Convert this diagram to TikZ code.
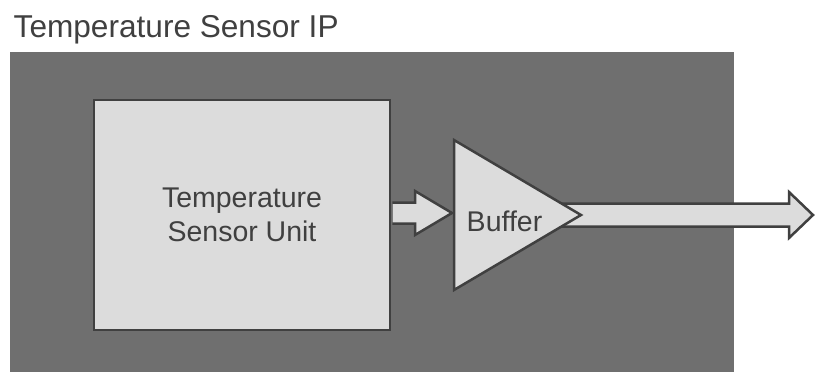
\documentclass[tikz,border=0pt]{standalone}
\usepackage{fontspec}
\setmainfont{Liberation Sans}
\usetikzlibrary{calc}
\definecolor{bggrey}{HTML}{6F6F6F}
\definecolor{boxfill}{HTML}{DCDCDC}
\definecolor{edgegrey}{HTML}{404040}
\begin{document}
\begin{tikzpicture}[x=1pt,y=-1pt,
  blk/.style={draw=edgegrey, fill=boxfill, line width=2.5pt, line join=miter},
  arrfill/.style={fill=boxfill},
  arredge/.style={draw=edgegrey, line width=2.5pt, line join=miter},
  lbl/.style={text=edgegrey, font=\fontsize{28.5}{34.5}\selectfont, align=center, inner sep=0pt}]
\useasboundingbox (0,0) rectangle (815,372);
% background block
\fill[bggrey] (10,52) rectangle (734,372);
% title
\node[anchor=base west, inner sep=0pt, text=edgegrey, font=\fontsize{31.6}{37}\selectfont] (title) at (13.5,37) {Temperature Sensor IP};
% sensor unit box
\node[blk, lbl, minimum width=296pt, minimum height=230pt] (tsu) at (242,215) {Temperature\\Sensor Unit};
% triangle corners
\coordinate (triT) at (454,140);
\coordinate (triB) at (454,290);
\coordinate (triP) at (581,215);
% output block arrow (behind the buffer)
\fill[arrfill] (560,203.5) -- (789,203.5) -- (789,192) -- (813,215) -- (789,238) -- (789,226.5) -- (560,226.5) -- cycle;
\draw[arredge] (560,203.5) -- (789,203.5) -- (789,192) -- (813,215) -- (789,238) -- (789,226.5) -- (560,226.5);
% buffer triangle
\draw[blk] (triT) -- (triB) -- (triP) -- cycle;
\node[lbl, anchor=base] (buf) at (504.5,231.5) {Buffer};
% input block arrow from sensor unit to buffer
\fill[arrfill] ($(tsu.east)+(1.5,-12.5)$) -- (415,202.5) -- (415,191) -- (452,213) -- (415,235) -- (415,223.5) -- ($(tsu.east)+(1.5,8.5)$) -- cycle;
\draw[arredge] ($(tsu.east)+(1.2,-12.5)$) -- (415,202.5) -- (415,191) -- (452,213) -- (415,235) -- (415,223.5) -- ($(tsu.east)+(1.2,8.5)$);
\end{tikzpicture}
\end{document}
